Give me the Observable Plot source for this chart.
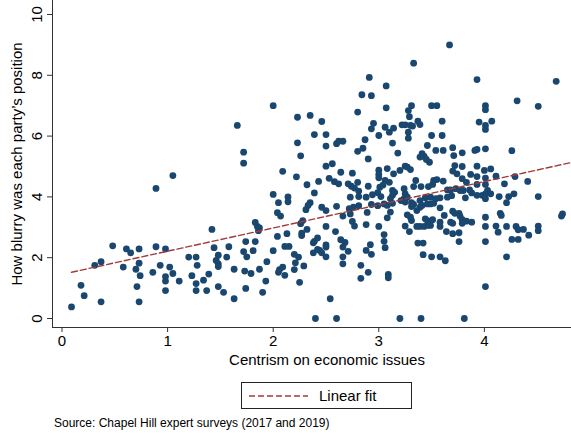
<!DOCTYPE html>
<html>
<head>
<meta charset="utf-8">
<script src="https://cdn.jsdelivr.net/npm/d3@7"></script>
<script src="https://cdn.jsdelivr.net/npm/@observablehq/plot@0.6"></script>
<style>
  html, body { margin: 0; padding: 0; background: #fff; }
  #wrap { position: relative; width: 571px; height: 433px; overflow: hidden; font-family: "Liberation Sans", Arial, sans-serif; color: #000; }
  #legend { position: absolute; left: 241px; top: 382px; width: 169px; height: 25px; border: 1px solid #222; background: #fff; }
  #legend svg { display: block; }
  #source { position: absolute; left: 54px; top: 416px; font-size: 12px; white-space: nowrap; }
</style>
</head>
<body>
<div id="wrap">
  <div id="chart"></div>
  <div id="legend"></div>
  <div id="source"></div>
</div>
<script>
// ---- data (centrism on economic issues, blurriness of position) ----
const xTicks = [0, 1, 2, 3, 4];
const yTicks = [0, 2, 4, 6, 8, 10];
const xTitle = "Centrism on economic issues";
const yTitle = "How blurry was each party\u2019s position";
const legendLabel = "Linear fit";
const sourceText = "Source: Chapel Hill expert surveys (2017 and 2019)";

// linear fit endpoints
const fitCentrism = [0.09, 4.9];
const fitBlur = [1.52, 5.19];

// parties with centrism below ~2.1
const leftParties = [
[1.72,5.47],[1.72,5.11],[1.05,4.70],[0.89,4.28],[2.00,4.08],[2.05,3.81],[2.04,3.48],[1.83,3.16],[1.85,3.03],[1.86,2.89],
[1.87,2.98],[1.42,2.93],[2.04,2.70],[0.48,2.39],[0.61,2.29],[0.65,2.16],[0.73,2.29],[0.89,2.36],[0.98,2.29],[1.44,2.33],
[1.58,2.36],[1.74,2.53],[1.83,2.53],[1.72,2.20],[1.81,2.23],[1.75,2.03],[2.00,2.23],[1.20,2.02],[1.27,2.02],[1.48,2.08],
[1.46,1.91],[1.48,1.80],[1.48,1.71],[1.56,2.02],[0.37,1.87],[0.31,1.75],[0.73,1.82],[0.93,1.75],[1.28,1.75],[0.58,1.69],
[0.70,1.62],[1.02,1.69],[1.63,1.62],[1.87,1.62],[1.94,1.87],[2.06,1.61],[2.05,1.52],[0.74,1.41],[0.86,1.52],[1.05,1.48],
[0.98,1.38],[0.98,1.23],[1.11,1.23],[1.23,1.41],[1.39,1.46],[1.34,1.26],[1.27,1.15],[1.73,1.56],[1.79,1.48],[1.93,1.23],
[0.18,1.09],[0.71,1.05],[0.98,0.92],[1.27,0.92],[1.37,0.92],[1.48,1.05],[1.53,0.86],[1.74,0.99],[1.90,0.86],[0.21,0.75],
[0.37,0.55],[0.73,0.55],[1.63,0.65],[0.09,0.38],[1.66,6.35],[2.09,1.69],[2.11,1.42],[2.07,3.37]
];

// parties with centrism between ~2.1 and ~3.05
const midParties = [
[2.91,7.93],[3.07,7.65],[2.84,7.36],[2.93,7.33],[3.07,6.93],
[2.00,7.00],[2.80,6.79],[2.23,6.62],[2.35,6.68],[2.46,6.48],[2.95,6.42],[2.93,6.24],[2.39,6.05],[2.50,6.05],[3.00,6.02],
[2.23,5.78],[2.87,5.88],[2.60,5.75],[2.62,5.83],[2.66,5.83],[2.50,5.67],[2.85,5.60],[2.80,5.50],[2.26,5.35],[2.90,5.25],
[2.56,5.09],[2.50,5.01],[2.09,4.84],[2.64,4.81],[2.75,4.78],[3.00,4.88],[3.00,4.74],[3.00,4.63],[2.22,4.66],[2.53,4.61],
[2.58,4.50],[2.62,4.43],[2.43,4.51],[2.32,4.40],[2.71,4.43],[2.74,4.35],[2.77,4.29],[2.80,4.48],[2.81,4.19],[2.81,4.01],
[2.90,4.35],[2.94,4.07],[2.99,4.14],[3.01,4.32],[3.02,4.01],[2.39,4.13],[2.14,4.00],[2.14,3.84],[2.73,3.99],[2.88,3.99],
[2.93,3.75],[2.99,3.71],[2.35,3.81],[2.33,3.72],[2.46,3.66],[2.60,3.69],[2.72,3.61],[2.76,3.66],[2.81,3.71],[2.31,3.58],
[2.50,3.55],[2.73,3.44],[2.66,3.37],[2.89,3.49],[2.28,3.22],[2.26,3.12],[2.75,3.19],[2.77,3.04],[2.88,3.09],[3.00,3.03],
[2.50,3.03],[2.32,2.93],[2.27,2.81],[2.27,2.73],[2.13,2.79],[2.59,2.86],[2.42,2.65],[2.39,2.54],[2.38,2.49],[2.64,2.59],
[2.68,2.50],[2.50,2.42],[2.50,2.35],[2.11,2.37],[2.15,2.37],[2.66,2.35],[2.71,2.21],[2.92,2.43],[2.88,2.24],[2.93,2.11],
[2.44,2.24],[2.42,2.27],[2.46,2.16],[2.38,2.16],[2.50,2.03],[2.20,2.11],[2.24,2.02],[2.66,2.03],[2.21,1.83],[2.29,1.73],
[2.66,1.80],[2.83,1.75],[2.20,1.61],[2.90,1.52],[2.83,1.32],[2.25,1.19],[2.54,0.65],[2.40,0.00],[2.60,0.00]
];

// parties with centrism above ~3.05
const rightParties = [
[3.67,9.00],[3.33,8.40],[3.93,7.86],[4.68,7.80],[4.31,7.16],[4.51,6.98],[3.31,7.00],[3.28,6.84],[3.29,6.64],[3.50,7.00],
[3.55,7.00],[4.01,7.00],[4.01,6.87],[3.60,6.49],[3.37,6.49],[3.39,6.38],[3.06,6.29],[3.14,6.26],[3.10,6.13],[3.22,6.37],
[3.25,6.37],[3.30,6.35],[3.32,6.33],[3.28,6.13],[3.28,5.93],[3.95,6.46],[4.01,6.35],[4.01,6.22],[4.07,6.49],[3.50,6.02],
[3.60,6.02],[3.13,5.77],[3.46,5.69],[3.54,5.53],[3.61,5.53],[3.70,5.62],[3.18,5.44],[3.71,5.36],[3.79,5.45],[3.91,5.53],
[3.93,5.56],[4.01,5.58],[4.26,5.52],[3.41,5.42],[3.43,5.33],[3.39,5.31],[3.45,5.23],[3.48,5.14],[3.72,5.03],[3.79,5.00],
[3.93,5.01],[3.08,4.93],[3.14,4.76],[3.20,4.87],[3.25,5.01],[3.27,4.98],[3.30,4.90],[3.70,4.85],[3.74,4.76],[3.87,4.74],
[4.00,4.87],[4.06,4.92],[4.11,4.68],[4.29,4.67],[3.79,4.60],[3.93,4.67],[4.01,4.62],[3.06,4.54],[3.10,4.48],[3.04,4.39],
[3.35,4.54],[3.52,4.54],[3.55,4.57],[3.61,4.52],[3.83,4.48],[4.19,4.43],[4.41,4.51],[3.93,4.41],[4.01,4.41],[3.13,4.21],
[3.15,4.15],[3.13,4.05],[3.11,3.94],[3.24,4.27],[3.25,4.10],[3.27,3.99],[3.24,3.94],[3.21,3.88],[3.25,3.83],[3.33,4.34],
[3.40,4.34],[3.47,4.34],[3.51,4.41],[3.65,4.23],[3.68,4.23],[3.73,4.27],[3.77,4.21],[3.80,4.21],[3.86,4.23],[3.88,4.13],
[3.93,4.05],[3.98,4.05],[4.01,4.10],[4.03,4.21],[4.06,4.10],[4.01,3.94],[4.14,4.01],[4.23,4.01],[4.28,4.10],[4.21,3.81],
[4.51,4.01],[3.82,3.97],[3.39,3.88],[3.44,3.97],[3.49,3.99],[3.54,3.94],[3.58,3.97],[3.65,3.99],[3.69,4.04],[3.31,3.81],
[3.33,3.75],[3.05,3.77],[3.08,3.72],[3.13,3.79],[3.31,3.68],[3.36,3.55],[3.39,3.66],[3.41,3.72],[3.46,3.77],[3.49,3.77],
[3.52,3.79],[3.58,3.64],[3.11,3.50],[3.08,3.31],[3.27,3.41],[3.30,3.33],[3.31,3.22],[3.44,3.28],[3.46,3.22],[3.48,3.17],
[3.51,3.25],[3.49,3.06],[3.46,3.06],[3.43,3.03],[3.39,3.03],[3.36,3.03],[3.58,3.17],[3.58,3.03],[3.62,3.39],[3.70,3.53],
[3.72,3.46],[3.76,3.46],[3.77,3.36],[3.79,3.25],[3.79,3.13],[3.83,3.20],[3.68,3.17],[3.70,3.13],[3.88,3.17],[3.25,3.04],
[3.29,2.86],[3.64,2.86],[3.70,2.79],[3.76,2.82],[4.01,3.33],[4.01,3.03],[4.11,3.04],[4.13,2.84],[4.15,3.46],[4.16,3.39],
[4.21,3.03],[4.30,3.03],[4.32,2.92],[4.37,2.93],[4.42,2.74],[4.51,3.04],[4.51,2.89],[4.74,3.44],[4.73,3.37],[3.05,2.76],
[3.05,2.54],[3.06,2.33],[3.37,2.48],[3.42,2.48],[3.76,2.53],[4.01,2.53],[4.26,2.60],[4.32,2.60],[3.42,2.10],[3.50,2.03],
[3.58,2.03],[3.63,1.90],[4.21,2.03],[3.09,1.45],[3.09,1.34],[4.01,1.05],[3.20,0.00],[3.40,0.00],[3.81,0.00]
];

// ---- build tables ----
const parties = [...leftParties, ...midParties, ...rightParties].map(([c, b]) => ({centrism: c, blur: b}));
const fit = fitCentrism.map((c, i) => ({centrism: c, blur: fitBlur[i]}));

const NAVY = "#1a476f";
const FIT = "#a23a3a";
const FONT = "'Liberation Sans', Arial, sans-serif";

const chart = Plot.plot({
  width: 571,
  height: 372,
  marginLeft: 52,
  marginRight: 0,
  marginTop: 0,
  marginBottom: 45,
  style: {fontFamily: FONT, fontSize: "15px", color: "#000", background: "#fff", overflow: "visible"},
  x: {domain: [-0.09, 4.825]},
  y: {domain: [-0.296, 10.46]},
  marks: [
    Plot.frame({anchor: "left", stroke: "#333"}),
    Plot.frame({anchor: "bottom", stroke: "#333"}),
    Plot.axisX({ticks: xTicks, tickFormat: d => String(d), tickSize: 5, tickPadding: 3, stroke: "#333", label: null, fontSize: 15}),
    Plot.axisY({ticks: yTicks, tickFormat: () => "", tickSize: 5, stroke: "#333", label: null}),
    // rotated y tick labels, placed on the y scale
    Plot.text(yTicks, {y: d => d, frameAnchor: "left", dx: -15, rotate: -90, text: d => String(d),
                       textAnchor: "middle", lineAnchor: "middle", fontSize: 15}),
    Plot.text([xTitle], {frameAnchor: "bottom", dx: 15, dy: 27, fontSize: 15, text: d => d, lineAnchor: "top", textAnchor: "middle"}),
    Plot.text([yTitle], {frameAnchor: "left", dx: -35, rotate: -90, fontSize: 15, text: d => d, lineAnchor: "middle", textAnchor: "middle"}),
    Plot.dot(parties, {x: "centrism", y: "blur", r: 3.4, fill: NAVY, stroke: null}),
    Plot.line(fit, {x: "centrism", y: "blur", stroke: FIT, strokeWidth: 1.4, strokeDasharray: "6,3", clip: true})
  ]
});
document.getElementById("chart").appendChild(chart);

// ---- legend ----
const lg = d3.select("#legend").append("svg").attr("width", 169).attr("height", 25);
lg.append("line").attr("x1", 7).attr("x2", 66).attr("y1", 13).attr("y2", 13)
  .attr("stroke", FIT).attr("stroke-width", 1.4).attr("stroke-dasharray", "6,3");
lg.append("text").attr("x", 77).attr("y", 13).attr("dy", "0.35em")
  .attr("font-family", FONT).attr("font-size", 15).text(legendLabel);

document.getElementById("source").textContent = sourceText;
</script>
</body>
</html>
